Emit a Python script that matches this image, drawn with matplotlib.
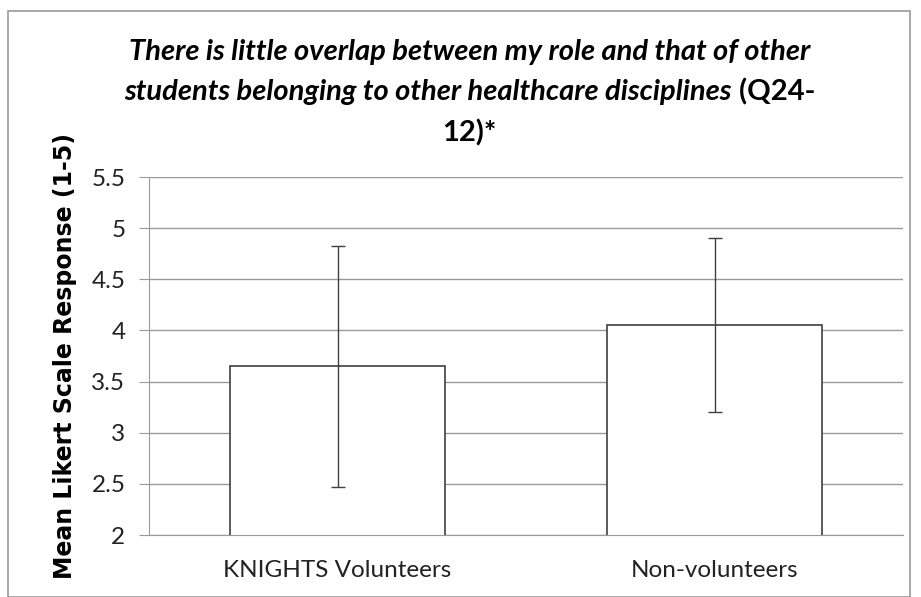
import matplotlib
matplotlib.use("Agg")
import matplotlib.pyplot as plt
from matplotlib.patches import Rectangle

categories = ["KNIGHTS Volunteers", "Non-volunteers"]
means = [3.65, 4.05]
errors = [1.18, 0.85]
yticks = [2, 2.5, 3, 3.5, 4, 4.5, 5, 5.5]
ytick_labels = ["2", "2.5", "3", "3.5", "4", "4.5", "5", "5.5"]

fig = plt.figure(figsize=(9.21, 5.97), dpi=100)
fig.patch.set_facecolor("white")
fig.patches.append(Rectangle((8/921, 0.0), 902/921, 1 - 11/597 - 0.0,
                             transform=fig.transFigure, fill=False,
                             edgecolor="#9a9a9a", linewidth=1.2))

ax = fig.add_axes([149/921, 1 - 535/597, 754/921, (535 - 177)/597])
x = [0, 1]
ax.bar(x, means, width=0.57, bottom=0, color="white", edgecolor="#404040",
       linewidth=1.2, zorder=3)
ax.errorbar(x, means, yerr=errors, fmt="none", ecolor="#404040",
            elinewidth=1.0, capsize=5, capthick=1.0, zorder=4)
ax.set_xlim(-0.5, 1.5)
ax.set_ylim(2, 5.5)
ax.set_yticks(yticks)
ax.set_yticklabels(ytick_labels)
ax.set_xticks(x)
ax.set_xticklabels(categories)
ax.yaxis.grid(True, color="#9a9a9a", linewidth=1.0, zorder=0)
ax.set_axisbelow(True)
for s in ["top", "right"]:
    ax.spines[s].set_visible(False)
ax.spines["left"].set_color("#9a9a9a")
ax.spines["bottom"].set_color("#9a9a9a")
ax.tick_params(axis="y", length=7, color="#9a9a9a", labelsize=17.5,
               labelcolor="#222222", pad=10)
ax.tick_params(axis="x", length=0, labelsize=17.5, labelcolor="#222222", pad=18)
for lab in ax.get_yticklabels() + ax.get_xticklabels():
    lab.set_family("Lato")
ax.set_ylabel("Mean Likert Scale Response (1-5)", fontsize=17,
              fontweight="bold", family="DejaVu Sans", labelpad=10)

tfam = "Lato"
tsize = 21
cx = 0.510
fig.text(cx, 1 - 52/597, "There is little overlap between my role and that of other",
         ha="center", va="center", fontsize=tsize, fontweight="bold",
         style="italic", family=tfam)
t2a = fig.text(cx, 1 - 92/597, "students belonging to other healthcare disciplines",
               ha="left", va="center", fontsize=tsize, fontweight="bold",
               style="italic", family=tfam)
t2b = fig.text(cx, 1 - 92/597, " (Q24-", ha="left", va="center",
               fontsize=tsize, fontweight="bold", family=tfam)
fig.text(cx, 1 - 133/597, "12)*", ha="center", va="center", fontsize=tsize,
         fontweight="bold", family=tfam)

fig.canvas.draw()
r = fig.canvas.get_renderer()
wa = t2a.get_window_extent(r).width / fig.bbox.width
wb = t2b.get_window_extent(r).width / fig.bbox.width
start = cx - (wa + wb) / 2
t2a.set_x(start)
t2b.set_x(start + wa)

fig.savefig("out.png", dpi=100, facecolor="white")
